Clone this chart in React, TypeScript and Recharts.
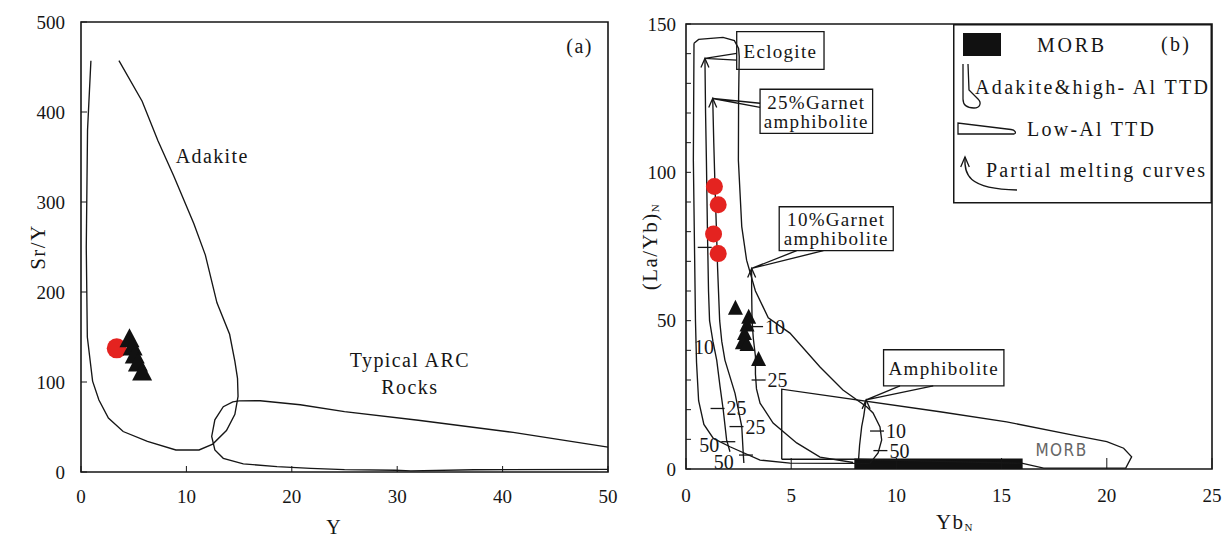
import React from 'react';
import { ScatterChart, Scatter, XAxis, YAxis, ReferenceArea, Label, Legend } from 'recharts';

const INK = '#161616';
const RED = '#e42320';
const SERIF = '"Liberation Serif", "Times New Roman", serif';

type Pt = [number, number];
const toXY = (list: Pt[]) => list.map(([x, y]) => ({ x, y }));

// ---------- (a) Sr/Y vs Y ----------
const xTicksA = [0, 10, 20, 30, 40, 50];
const yTicksA = [0, 100, 200, 300, 400, 500];

const adakiteFieldA: Pt[] = [
  [0.94, 457], [0.62, 380], [0.5, 250], [0.6, 150], [1.1, 101], [1.7, 80], [2.6, 60], [4.0, 45],
  [6.3, 34], [9.0, 24.5], [11.2, 24.5], [12.5, 31], [13.8, 46], [14.6, 64], [14.9, 84], [14.85, 104],
  [14.6, 123], [14.1, 153], [12.9, 188], [11.8, 241], [10.7, 276], [8.8, 329], [7.3, 368], [5.8, 412], [3.6, 457],
];
const arcFieldA: Pt[] = [
  [50, 27.6], [41, 44], [32, 57.5], [25, 67], [20.8, 74.7], [17, 79.2], [15, 79], [14.4, 78], [13.5, 72.6],
  [12.7, 58], [12.4, 39.5], [12.7, 24.5], [13.5, 15.2], [15.4, 9], [18.6, 6], [21.8, 4.1], [25, 2.6],
  [29.8, 1.9], [31.3, 1.2], [37.3, 2.5], [50, 3],
];
const circlesA: Pt[] = [[3.39, 137.4]];
const trianglesA: Pt[] = [[4.6, 147], [4.9, 138], [5.1, 129], [5.4, 120], [5.8, 110]];
const labelsA = [
  { x: 12.45, y: 351, label: 'Adakite' },
  { x: 31.2, y: 124.5, label: 'Typical ARC' },
  { x: 31.2, y: 94, label: 'Rocks' },
  { x: 47.3, y: 473, label: '(a)' },
];

// ---------- (b) (La/Yb)N vs YbN ----------
const xTicksB = [0, 5, 10, 15, 20, 25];
const yTicksB = [0, 10, 20, 30, 40, 50, 60, 70, 80, 90, 100, 110, 120, 130, 140, 150];

const adakiteFieldB: Pt[] = [
  [0.38, 143.5], [0.6, 144.8], [1.76, 145.5], [2.3, 144.4], [2.5, 141.8], [2.53, 139], [2.5, 125],
  [2.49, 104], [2.65, 81.7], [2.88, 70.4], [3.3, 60], [3.91, 51], [4.94, 45.8], [6.37, 34.4],
  [7.46, 26.6], [8.6, 20.9], [8.89, 18.9], [9.22, 14.2], [9.3, 9.8], [9.13, 5.4], [8.75, 2.0],
  [7.9, 1.9], [4.94, 2.0], [3.52, 3.0], [2.09, 7.5], [1.3, 10.3], [0.85, 15], [0.6, 23], [0.5, 36],
  [0.45, 50], [0.35, 104], [0.38, 143.5],
];
const lowAlFieldB: Pt[] = [
  [4.55, 3.3], [4.55, 26.9], [12.07, 19.3], [15.24, 15.9], [18.4, 11.4], [20, 9.2], [20.8, 7.0],
  [21.18, 4.1], [20.9, 0.3], [17, 0.3], [16, 1.9], [8, 3.3], [4.55, 3.3],
];
const eclogiteCurve: Pt[] = [
  [0.9, 138.4], [0.93, 120], [0.97, 104], [1.02, 80], [1.07, 60], [1.12, 50], [1.28, 43], [1.46, 36.7],
  [1.62, 27.7], [1.77, 19.9], [1.93, 9.8], [2.09, 5.8],
];
const garnet25Curve: Pt[] = [
  [1.27, 124.9], [1.32, 110], [1.38, 95], [1.45, 80], [1.5, 68], [1.6, 50], [1.7, 43], [1.85, 36.7],
  [2.33, 25.5], [2.65, 14.3], [2.72, 5.3], [2.75, 2.0],
];
const garnet10Curve: Pt[] = [
  [3.12, 67.6], [3.12, 60], [3.14, 50], [3.2, 44], [3.3, 38], [3.3, 32], [3.35, 27], [3.52, 22.2],
  [4.14, 15.5], [5.26, 8.8], [6.37, 4.0], [7.94, 2.2],
];
const amphiboliteCurve: Pt[] = [[8.56, 23.3], [8.45, 18], [8.35, 14.3], [8.25, 8], [8.2, 3.0]];
const curveTips: Pt[] = [[0.9, 138.4], [1.27, 124.9], [3.12, 67.6], [8.56, 23.3]];

const calloutBoxes = [
  { x1: 2.41, x2: 6.56, y1: 134.7, y2: 147.4, label: 'Eclogite' },
  { x1: 3.52, x2: 8.87, y1: 113.1, y2: 128, label: '25%Garnet\namphibolite' },
  { x1: 4.43, x2: 9.85, y1: 73.6, y2: 88.4, label: '10%Garnet\namphibolite' },
  { x1: 9.39, x2: 15.11, y1: 28.0, y2: 40.2, label: 'Amphibolite' },
];
const calloutWedges: Pt[][] = [
  [[2.41, 140.1], [0.9, 138.4], [2.41, 137.8]],
  [[3.52, 123.3], [1.27, 124.9], [3.52, 121.9]],
  [[5.26, 73.6], [3.12, 67.6], [6.53, 73.6]],
  [[10.17, 28.0], [8.56, 23.3], [11.75, 28.0]],
];
const meltTicks = [
  { x: 1.5, y: 20.4, label: '25' },
  { x: 2.4, y: 14.3, label: '25' },
  { x: 3.33, y: 48, label: '10' },
  { x: 3.45, y: 30, label: '25' },
  { x: 9.08, y: 12.8, label: '10' },
  { x: 9.24, y: 6.2, label: '50' },
  { x: 0.89, y: 74.7, label: '' },
  { x: 2.85, y: 4.7, label: '' },
  { x: 2.01, y: 9.2, label: '' },
];
const meltLabels = [
  { x: 0.85, y: 41, label: '10' },
  { x: 1.1, y: 8.1, label: '50' },
  { x: 1.8, y: 2.5, label: '50' },
];
const morbBar = { x1: 8, x2: 16, y1: 0, y2: 3.5 };
const morbText = [{ x: 17.85, y: 6.4, label: 'MORB' }];
const circlesB: Pt[] = [[1.35, 95.2], [1.53, 89.1], [1.31, 79.2], [1.53, 72.6]];
const trianglesB: Pt[] = [[2.35, 54], [2.98, 51], [2.9, 48.4], [2.78, 45.5], [2.68, 42.4], [2.9, 41.8], [3.45, 36.7]];

// ---------- marks ----------
const Blank = () => <g />;
const lineStyle = { stroke: INK, strokeWidth: 1.35 };

const triangle = (w: number, h: number) => (p: any) => (
  <path
    d={`M${p.cx},${p.cy - h * 0.6}L${p.cx + w / 2},${p.cy + h * 0.4}L${p.cx - w / 2},${p.cy + h * 0.4}Z`}
    fill="#111"
  />
);
const redDot = (r: number) => (p: any) => <circle cx={p.cx} cy={p.cy} r={r} fill={RED} />;

const textMark = (size: number, spacing: number, lh = size, color = INK, family = SERIF) => (p: any) => {
  const lines = String(p.payload.label).split('\n');
  return (
    <text
      x={p.cx}
      y={p.cy - ((lines.length - 1) * lh) / 2}
      textAnchor="middle"
      dominantBaseline="central"
      fontSize={size}
      fontFamily={family}
      letterSpacing={spacing}
      fill={color}
    >
      {lines.map((l, i) => (
        <tspan key={i} x={p.cx} dy={i === 0 ? 0 : lh}>
          {l}
        </tspan>
      ))}
    </text>
  );
};

const dashMark = (p: any) => (
  <g>
    <line x1={p.cx - 7} x2={p.cx + 7} y1={p.cy} y2={p.cy} stroke={INK} strokeWidth={1.3} />
    {p.payload.label ? (
      <text x={p.cx + 9} y={p.cy} dominantBaseline="central" fontSize={20} fontFamily={SERIF} fill={INK}>
        {p.payload.label}
      </text>
    ) : null}
  </g>
);

const arrowHead = (p: any) => (
  <path d={`M${p.cx - 4},${p.cy + 9}L${p.cx},${p.cy}L${p.cx + 4},${p.cy + 9}`} fill="none" stroke={INK} strokeWidth={1.3} />
);

const outline = (data: Pt[], key: string) => (
  <Scatter
    key={key}
    data={toXY(data)}
    line={lineStyle}
    lineType="joint"
    shape={Blank}
    isAnimationActive={false}
  />
);

const tickStyle = (size: number) => ({ fill: INK, fontSize: size, fontFamily: SERIF });

const legendText = { dominantBaseline: 'central', fontSize: 20, fontFamily: SERIF, fill: INK, lengthAdjust: 'spacing' } as any;

const LegendB = () => (
  <svg width={259} height={180} style={{ display: 'block', overflow: 'visible' }}>
    <rect x={0.75} y={0.75} width={257.5} height={178} fill="#fff" stroke={INK} strokeWidth={1.5} />
    <rect x={10} y={9} width={38} height={23} fill="#111" />
    <text x={84} y={21} textLength={67} {...legendText}>MORB</text>
    <text x={208} y={20} textLength={28} {...legendText}>(b)</text>
    <path d="M10,40 L10,75 C10,81 14,84 21,84 C27,84 29,79 25,75 L16,66 L15,40" fill="none" stroke={INK} strokeWidth={1.3} />
    <text x={22} y={63} textLength={233} {...legendText}>{'Adakite&high- Al TTD'}</text>
    <path d="M5,99 L5,110 L61,110 C64,109 62,106 58,105.5 Z" fill="none" stroke={INK} strokeWidth={1.3} />
    <text x={74} y={104.5} textLength={127} {...legendText}>Low-Al TTD</text>
    <path d="M12,133 C11,150 14,165 64,166" fill="none" stroke={INK} strokeWidth={1.3} />
    <path d="M7.7,143 L12,133 L16.3,143" fill="none" stroke={INK} strokeWidth={1.3} />
    <text x={33} y={146} textLength={219} {...legendText}>Partial melting curves</text>
  </svg>
);

export default function App() {
  return (
    <div style={{ position: 'absolute', left: 0, top: 0, width: 1224, height: 540, background: '#fff' }}>
      <div style={{ position: 'absolute', left: 0, top: 0 }}>
        <ScatterChart width={620} height={540} margin={{ top: 22, right: 12, bottom: 0, left: 0 }}>
          <XAxis
            type="number"
            dataKey="x"
            domain={[0, 50]}
            ticks={xTicksA}
            interval={0}
            axisLine={false}
            tickLine={{ stroke: INK }}
            tickSize={-6}
            tickMargin={24}
            tick={tickStyle(19)}
            height={68}
          >
            <Label
              content={(p: any) => (
                <text x={p.viewBox.x + p.viewBox.width / 2 - 11} y={p.viewBox.y + 55} textAnchor="middle" dominantBaseline="central" fontSize={20} fontFamily={SERIF} fill={INK}>Y</text>
              )}
            />
          </XAxis>
          <YAxis
            type="number"
            dataKey="y"
            domain={[0, 500]}
            ticks={yTicksA}
            interval={0}
            axisLine={false}
            tickLine={{ stroke: INK }}
            tickSize={-6}
            tickMargin={22}
            tick={tickStyle(19)}
            width={81}
          >
            <Label
              content={(p: any) => {
                const cx = p.viewBox.x + 38;
                const cy = p.viewBox.y + p.viewBox.height / 2;
                return (
                  <text x={cx} y={cy} transform={`rotate(-90 ${cx} ${cy})`} textAnchor="middle" dominantBaseline="central" fontSize={21} fontFamily={SERIF} letterSpacing={1.5} fill={INK}>Sr/Y</text>
                );
              }}
            />
          </YAxis>
          <ReferenceArea x1={0} x2={50} y1={0} y2={500} fill="none" stroke={INK} strokeWidth={1.6} ifOverflow="visible" />
          {outline(adakiteFieldA, 'adakiteA')}
          {outline(arcFieldA, 'arcA')}
          <Scatter data={labelsA} shape={textMark(20, 1.4)} isAnimationActive={false} />
          <Scatter data={toXY(circlesA)} shape={redDot(10)} isAnimationActive={false} />
          <Scatter data={toXY(trianglesA)} shape={triangle(20, 19)} isAnimationActive={false} />
        </ScatterChart>
      </div>

      <div style={{ position: 'absolute', left: 620, top: 0 }}>
        <ScatterChart width={604} height={540} margin={{ top: 24, right: 12, bottom: 0, left: 0 }}>
          <XAxis
            type="number"
            dataKey="x"
            domain={[0, 25]}
            ticks={xTicksB}
            interval={0}
            axisLine={false}
            tickLine={{ stroke: INK }}
            tickSize={-11}
            tickMargin={31}
            tick={tickStyle(19)}
            height={71}
          >
            <Label
              content={(p: any) => (
                <text x={p.viewBox.x + p.viewBox.width / 2 + 6} y={p.viewBox.y + 53} textAnchor="middle" dominantBaseline="central" fontSize={21} fontFamily={SERIF} letterSpacing={1.5} fill={INK}>
                  Yb<tspan fontSize={11} dy={5}>N</tspan>
                </text>
              )}
            />
          </XAxis>
          <YAxis
            type="number"
            dataKey="y"
            domain={[0, 150]}
            ticks={yTicksB}
            interval={0}
            axisLine={false}
            tickLine={{ stroke: INK }}
            tickSize={-5}
            tickMargin={15}
            tick={tickStyle(19)}
            tickFormatter={(v: number) => (v % 50 === 0 ? String(v) : '')}
            width={66}
          >
            <Label
              content={(p: any) => {
                const cx = p.viewBox.x + 30;
                const cy = p.viewBox.y + p.viewBox.height / 2;
                return (
                  <text x={cx} y={cy} transform={`rotate(-90 ${cx} ${cy})`} textAnchor="middle" dominantBaseline="central" fontSize={21} fontFamily={SERIF} letterSpacing={1.5} fill={INK}>
                    (La/Yb)<tspan fontSize={11} dy={5}>N</tspan>
                  </text>
                );
              }}
            />
          </YAxis>
          <ReferenceArea x1={0} x2={25} y1={0} y2={150} fill="none" stroke={INK} strokeWidth={1.6} ifOverflow="visible" />
          {outline(lowAlFieldB, 'lowAl')}
          {outline(adakiteFieldB, 'adakiteB')}
          {outline(eclogiteCurve, 'ecl')}
          {outline(garnet25Curve, 'g25')}
          {outline(garnet10Curve, 'g10')}
          {outline(amphiboliteCurve, 'amph')}
          {calloutWedges.map((w, i) => outline(w, `wedge${i}`))}
          <ReferenceArea {...morbBar} fill="#111" fillOpacity={1} stroke="none" ifOverflow="visible" />
          {calloutBoxes.map((b) => (
            <ReferenceArea key={b.label} x1={b.x1} x2={b.x2} y1={b.y1} y2={b.y2} fill="#fff" fillOpacity={1} stroke={INK} strokeWidth={1.3} ifOverflow="visible" />
          ))}
          <Scatter
            data={calloutBoxes.map((b) => ({ x: (b.x1 + b.x2) / 2, y: (b.y1 + b.y2) / 2, label: b.label }))}
            shape={textMark(19, 1.3, 19)}
            isAnimationActive={false}
          />
          <Scatter data={toXY(curveTips)} shape={arrowHead} isAnimationActive={false} />
          <Scatter data={meltTicks} shape={dashMark} isAnimationActive={false} />
          <Scatter data={meltLabels} shape={textMark(20, 0)} isAnimationActive={false} />
          <Scatter data={morbText} shape={textMark(17, 1.5, 17, '#666', '"Liberation Sans Narrow", "DejaVu Sans Condensed", sans-serif')} isAnimationActive={false} />
          <Scatter data={toXY(circlesB)} shape={redDot(8.5)} isAnimationActive={false} />
          <Scatter data={toXY(trianglesB)} shape={triangle(15, 15)} isAnimationActive={false} />
          <Legend
            content={LegendB}
            layout="horizontal"
            verticalAlign="middle"
            align="center"
            wrapperStyle={{ left: 333, top: 24, width: 259, height: 180 }}
          />
        </ScatterChart>
      </div>
    </div>
  );
}
